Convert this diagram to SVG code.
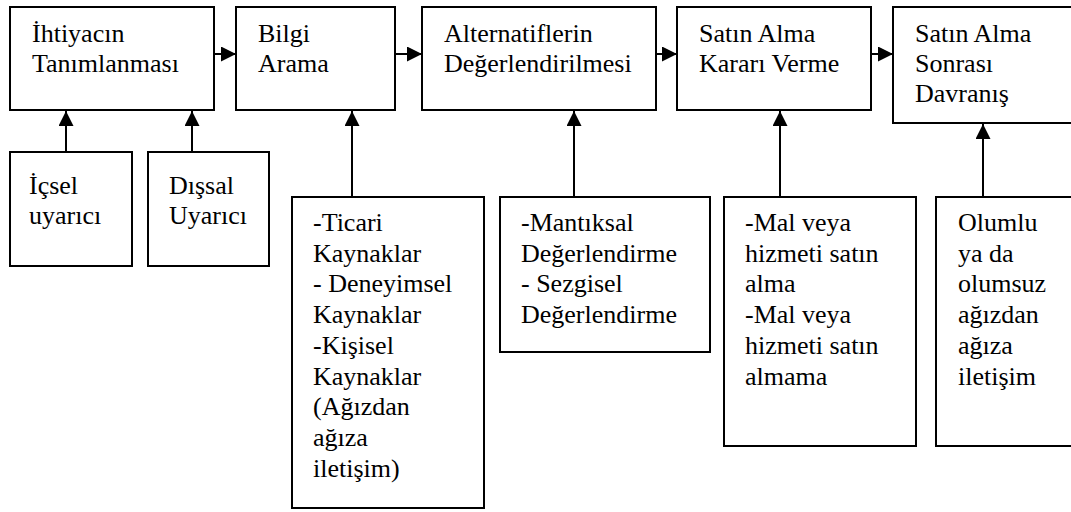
<svg xmlns="http://www.w3.org/2000/svg" width="1071" height="512" viewBox="0 0 1071 512">
  <style>
    .box { fill: #ffffff; stroke: #000000; stroke-width: 2; }
    .lbl { font-family: 'Liberation Serif', 'Times New Roman', Tinos, 'DejaVu Serif', serif; font-size: 26px; fill: #000000; }
    .wire { stroke: #000000; stroke-width: 2; fill: none; }
  </style>
  <defs>
    <marker id="head" viewBox="0 0 15 15" refX="15" refY="7.5" markerWidth="15" markerHeight="15" markerUnits="userSpaceOnUse" orient="auto">
      <path d="M0,0 L15,7.5 L0,15 Z" fill="#000000"/>
    </marker>
  </defs>
  <rect width="1071" height="512" fill="#ffffff"/>

  <!-- connectors -->
  <g id="connectors">
    <line class="wire" x1="214" y1="54" x2="236" y2="54" marker-end="url(#head)"/>
    <line class="wire" x1="395" y1="54" x2="422" y2="54" marker-end="url(#head)"/>
    <line class="wire" x1="656" y1="54" x2="677" y2="54" marker-end="url(#head)"/>
    <line class="wire" x1="871" y1="54" x2="893" y2="54" marker-end="url(#head)"/>
    <line class="wire" x1="66" y1="152" x2="66" y2="111" marker-end="url(#head)"/>
    <line class="wire" x1="192" y1="152" x2="192" y2="111" marker-end="url(#head)"/>
    <line class="wire" x1="352" y1="197" x2="352" y2="111" marker-end="url(#head)"/>
    <line class="wire" x1="574" y1="197" x2="574" y2="111" marker-end="url(#head)"/>
    <line class="wire" x1="780" y1="197" x2="780" y2="111" marker-end="url(#head)"/>
    <line class="wire" x1="983" y1="197" x2="983" y2="124" marker-end="url(#head)"/>
  </g>

  <!-- main stages -->
  <g id="stage-need">
    <rect class="box" x="10" y="7" width="204" height="103"/>
    <text class="lbl" font-family="Liberation Serif, serif" x="32" y="42">İhtiyacın</text>
    <text class="lbl" font-family="Liberation Serif, serif" x="32" y="72">Tanımlanması</text>
  </g>
  <g id="stage-search">
    <rect class="box" x="236" y="7" width="159" height="103"/>
    <text class="lbl" x="258" y="42">Bilgi</text>
    <text class="lbl" x="258" y="72">Arama</text>
  </g>
  <g id="stage-evaluate">
    <rect class="box" x="422" y="7" width="234" height="103"/>
    <text class="lbl" x="444" y="42">Alternatiflerin</text>
    <text class="lbl" x="444" y="72">Değerlendirilmesi</text>
  </g>
  <g id="stage-decision">
    <rect class="box" x="677" y="7" width="194" height="103"/>
    <text class="lbl" x="699" y="42">Satın Alma</text>
    <text class="lbl" x="699" y="72">Kararı Verme</text>
  </g>
  <g id="stage-after">
    <rect class="box" x="893" y="7" width="190" height="116"/>
    <text class="lbl" x="915" y="42">Satın Alma</text>
    <text class="lbl" x="915" y="72">Sonrası</text>
    <text class="lbl" x="915" y="102">Davranış</text>
  </g>

  <!-- inputs -->
  <g id="input-internal">
    <rect class="box" x="10" y="152" width="122" height="114"/>
    <text class="lbl" x="29" y="194">İçsel</text>
    <text class="lbl" x="29" y="224">uyarıcı</text>
  </g>
  <g id="input-external">
    <rect class="box" x="148" y="152" width="121" height="114"/>
    <text class="lbl" x="169" y="194">Dışsal</text>
    <text class="lbl" x="169" y="224">Uyarıcı</text>
  </g>
  <g id="input-sources">
    <rect class="box" x="292" y="197" width="192" height="311"/>
    <text class="lbl" x="313" y="231">-Ticari</text>
    <text class="lbl" x="313" y="262">Kaynaklar</text>
    <text class="lbl" x="313" y="292">- Deneyimsel</text>
    <text class="lbl" x="313" y="323">Kaynaklar</text>
    <text class="lbl" x="313" y="354">-Kişisel</text>
    <text class="lbl" x="313" y="385">Kaynaklar</text>
    <text class="lbl" x="313" y="415">(Ağızdan</text>
    <text class="lbl" x="313" y="446">ağıza</text>
    <text class="lbl" x="313" y="477">iletişim)</text>
  </g>
  <g id="input-evaluation">
    <rect class="box" x="500" y="197" width="210" height="155"/>
    <text class="lbl" x="521" y="231">-Mantıksal</text>
    <text class="lbl" x="521" y="262">Değerlendirme</text>
    <text class="lbl" x="521" y="292">- Sezgisel</text>
    <text class="lbl" x="521" y="323">Değerlendirme</text>
  </g>
  <g id="input-decision">
    <rect class="box" x="724" y="197" width="192" height="249"/>
    <text class="lbl" x="745" y="231">-Mal veya</text>
    <text class="lbl" x="745" y="262">hizmeti satın</text>
    <text class="lbl" x="745" y="292">alma</text>
    <text class="lbl" x="745" y="323">-Mal veya</text>
    <text class="lbl" x="745" y="354">hizmeti satın</text>
    <text class="lbl" x="745" y="385">almama</text>
  </g>
  <g id="input-after">
    <rect class="box" x="936" y="197" width="150" height="249"/>
    <text class="lbl" x="958" y="231">Olumlu</text>
    <text class="lbl" x="958" y="262">ya da</text>
    <text class="lbl" x="958" y="292">olumsuz</text>
    <text class="lbl" x="958" y="323">ağızdan</text>
    <text class="lbl" x="958" y="354">ağıza</text>
    <text class="lbl" x="958" y="385">iletişim</text>
  </g>
</svg>
